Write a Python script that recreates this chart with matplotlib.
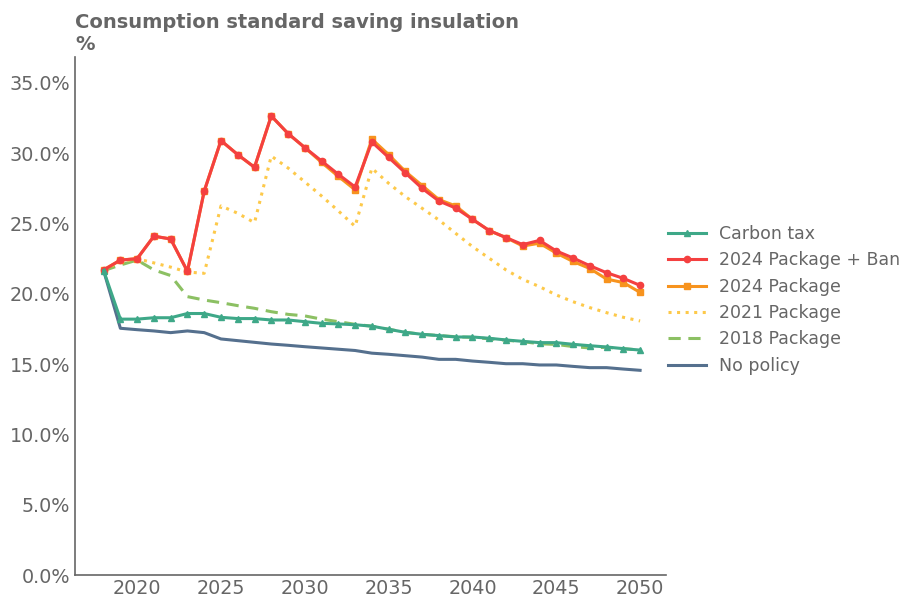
import matplotlib
matplotlib.use("Agg")
import matplotlib.pyplot as plt
import numpy as np
from matplotlib.ticker import FuncFormatter

years = np.arange(2018, 2051)

# values in %
carbon_tax = [21.65, 18.2, 18.2, 18.3, 18.3, 18.6, 18.6, 18.33, 18.24, 18.24, 18.14,
              18.14, 18.02, 17.9, 17.86, 17.8, 17.7, 17.48, 17.26, 17.12, 17.03, 16.93,
              16.93, 16.84, 16.72, 16.62, 16.53, 16.53, 16.41, 16.31, 16.22, 16.1, 16.0]
package_2024_ban = [21.7, 22.4, 22.5, 24.1, 23.9, 21.6, 27.3, 30.9, 29.9, 29.0, 32.65,
                    31.4, 30.4, 29.45, 28.5, 27.6, 30.8, 29.7, 28.6, 27.5, 26.6, 26.1,
                    25.3, 24.5, 24.0, 23.5, 23.8, 23.05, 22.55, 22.0, 21.5, 21.1, 20.6]
package_2024 = [21.7, 22.4, 22.5, 24.1, 23.9, 21.6, 27.3, 30.9, 29.9, 29.0, 32.65,
                31.4, 30.4, 29.35, 28.35, 27.4, 31.0, 29.9, 28.7, 27.7, 26.7, 26.25,
                25.3, 24.5, 24.0, 23.4, 23.6, 22.9, 22.3, 21.8, 21.05, 20.8, 20.1]
package_2021 = [21.7, 22.3, 22.5, 22.2, 21.9, 21.55, 21.46, 26.25, 25.73, 25.06, 29.8,
                28.95, 27.96, 26.96, 25.9, 24.8, 28.93, 27.86, 26.91, 26.08, 25.25, 24.3,
                23.36, 22.53, 21.7, 21.03, 20.51, 19.92, 19.44, 19.02, 18.66, 18.33, 18.07]
package_2018 = [21.65, 22.05, 22.4, 21.7, 21.3, 19.8, 19.56, 19.37, 19.16, 18.97, 18.73,
                18.54, 18.43, 18.2, 18.02, 17.83, 17.7, 17.48, 17.26, 17.12, 17.03, 16.95,
                16.9, 16.8, 16.7, 16.6, 16.45, 16.4, 16.25, 16.15, 16.2, 16.1, 16.0]
no_policy = [21.65, 17.55, 17.45, 17.36, 17.24, 17.36, 17.24, 16.79, 16.67, 16.55, 16.43,
             16.34, 16.24, 16.15, 16.06, 15.97, 15.78, 15.7, 15.6, 15.5, 15.34, 15.34,
             15.22, 15.13, 15.03, 15.03, 14.94, 14.94, 14.84, 14.75, 14.75, 14.65, 14.56]

grey = "#666666"

fig = plt.figure(figsize=(9.05, 5.99), dpi=100)
ax = fig.add_axes([0.083, 0.040, 0.653, 0.865])

# drawn bottom-up so that red sits on orange and carbon tax on the dashed line
ax.plot(years, no_policy, color="#55708e", lw=2.2, label="No policy")
ax.plot(years, package_2018, color="#8cc063", lw=2.2, ls=(0, (4, 2.5)), label="2018 Package")
ax.plot(years, package_2021, color="#fdc94a", lw=2.2, ls=(0, (1, 1.8)), label="2021 Package")
ax.plot(years, package_2024, color="#f7931e", lw=2.2, marker="s", ms=4, label="2024 Package")
ax.plot(years, package_2024_ban, color="#f44040", lw=2.2, marker="o", ms=4.5, label="2024 Package + Ban")
ax.plot(years, carbon_tax, color="#3ea888", lw=2.2, marker="^", ms=4.5, label="Carbon tax")

ax.set_xlim(2016.3, 2051.55)
ax.set_ylim(0, 36.85)
ax.set_xticks(np.arange(2020, 2051, 5))
ax.set_yticks(np.arange(0, 36, 5))
ax.yaxis.set_major_formatter(FuncFormatter(lambda v, p: f"{v:.1f}%"))
ax.tick_params(length=0, labelsize=13.8, labelcolor=grey)
ax.tick_params(axis="x", pad=2.5)
ax.tick_params(axis="y", pad=3.5)

for s in ["top", "right"]:
    ax.spines[s].set_visible(False)
for s in ["left", "bottom"]:
    ax.spines[s].set_color(grey)
    ax.spines[s].set_linewidth(1.2)

ax.text(0, 1.005, "Consumption standard saving insulation\n%", transform=ax.transAxes,
        ha="left", va="bottom", fontsize=14, fontweight="bold", color=grey,
        linespacing=1.2)

handles, labels = ax.get_legend_handles_labels()
leg = ax.legend(handles[::-1], labels[::-1], loc="center left", bbox_to_anchor=(1.003, 0.531),
                bbox_transform=ax.transAxes, frameon=False, fontsize=12.5,
                labelspacing=0.48, handlelength=2.2, handletextpad=0.75, borderaxespad=0.0,
                borderpad=0.0)
for t in leg.get_texts():
    t.set_color(grey)

fig.savefig("out.png", dpi=100)
